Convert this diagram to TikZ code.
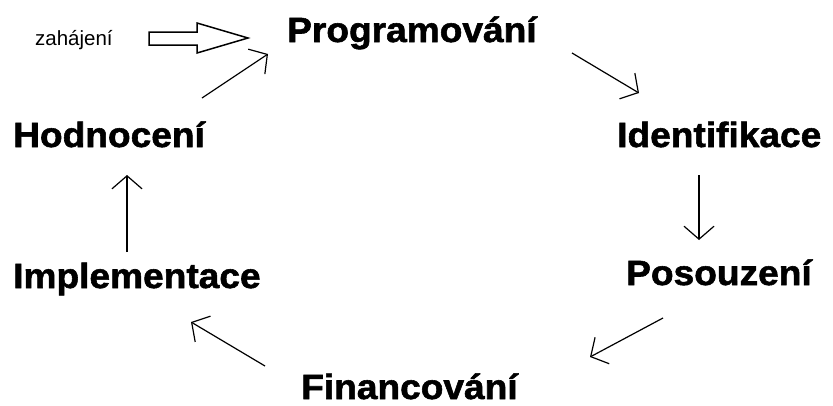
\documentclass[tikz,border=0pt]{standalone}
\usepackage{fontspec}
\setmainfont{Liberation Sans}
\newfontfamily\heavyfont[FakeBold=1.6,FakeStretch=1.06]{Liberation Sans Bold}
\usetikzlibrary{arrows.meta}
\begin{document}
\begin{tikzpicture}[x=1pt,y=-1pt,
  stage/.style={anchor=base west,inner sep=0pt,font=\fontsize{35}{40}\heavyfont},
  small/.style={anchor=base west,inner sep=0pt,font=\fontsize{20.5}{24}\selectfont},
  flow/.style={line width=1.2pt,-{Straight Barb[length=13pt,width=30pt,line width=1.2pt]}},
  hollow/.style={line width=1.5pt,fill=white,line join=miter}]
\useasboundingbox (0,0) rectangle (833,405);
\fill[white] (0,0) rectangle (833,405);
\node[stage] (prog) at (287,42) {Programování};
\node[stage] (ident) at (617,147) {Identifikace};
\node[stage] (posou) at (626,285) {Posouzení};
\node[stage] (finan) at (301,399) {Financování};
\node[stage] (impl) at (13,288) {Implementace};
\node[stage] (hodn) at (13,147) {Hodnocení};
\node[small] (zah) at (35,45) {zahájení};
% hollow start arrow
\draw[hollow] (149,32) -- (197,32) -- (197,23) -- (248,38) -- (197,53) -- (197,45) -- (149,45) -- cycle;
% connector end points
\coordinate (h1) at (202,98);  \coordinate (p1) at (268,54);
\coordinate (p2) at (572,53);  \coordinate (i1) at (639,93);
\coordinate (i2) at (699,175); \coordinate (s1) at (699,240);
\coordinate (s2) at (663,318); \coordinate (f1) at (590,357);
\coordinate (f2) at (265,366); \coordinate (m1) at (191,322);
\coordinate (m2) at (127,252); \coordinate (h2) at (127,175);
\draw[flow] (h1) -- (p1);
\draw[flow] (p2) -- (i1);
\draw[flow] (i2) -- (s1);
\draw[flow] (s2) -- (f1);
\draw[flow] (f2) -- (m1);
\draw[flow] (m2) -- (h2);
\end{tikzpicture}
\end{document}
